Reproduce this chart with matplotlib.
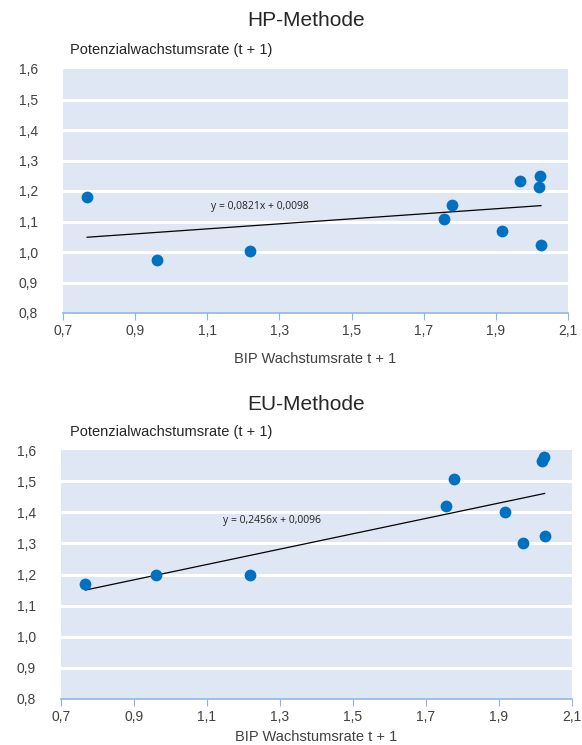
import numpy as np
import matplotlib
matplotlib.use("Agg")
import matplotlib.pyplot as plt
from matplotlib.ticker import FuncFormatter

plt.rcParams["font.family"] = ["Liberation Sans", "DejaVu Sans"]

# BIP-Wachstumsrate (t + 1)
bip = [0.767, 0.961, 1.219, 1.756, 1.778, 1.917, 1.967, 2.019, 2.022, 2.025]
# Potenzialwachstumsrate (t + 1)
hp_rate = [1.180, 0.974, 1.003, 1.108, 1.154, 1.069, 1.233, 1.213, 1.249, 1.023]
eu_rate = [1.170, 1.200, 1.200, 1.420, 1.507, 1.400, 1.300, 1.565, 1.577, 1.323]

x_ticks = [0.7, 0.9, 1.1, 1.3, 1.5, 1.7, 1.9, 2.1]
y_ticks = [0.8, 0.9, 1.0, 1.1, 1.2, 1.3, 1.4, 1.5, 1.6]
titles = ["HP-Methode", "EU-Methode"]
equations = ["y = 0,0821x + 0,0098", "y = 0,2456x + 0,0096"]
ylabel = "Potenzialwachstumsrate (t + 1)"
xlabel = "BIP Wachstumsrate t + 1"

bg = "#dfe7f4"
dot = "#0070c0"
axis_col = "#8db4e2"
txt = "#404040"

fig = plt.figure(figsize=(5.82, 7.45), dpi=100)
boxes = [
    [63 / 582, 1 - 313 / 745, 505 / 582, 244 / 745],
    [61 / 582, 1 - 699 / 745, 511 / 582, 249 / 745],
]
title_y = [20, 405]
ylab_y = [50, 432]
eq_pos = [(260, 207), (272, 521)]
xlab_pad = [10, 4]

comma = FuncFormatter(lambda v, p: f"{v:.1f}".replace(".", ","))

for i, rate in enumerate([hp_rate, eu_rate]):
    ax = fig.add_axes(boxes[i])
    ax.set_facecolor(bg)
    ax.set_xlim(0.7, 2.1)
    ax.set_ylim(0.8, 1.6)
    ax.set_xticks(x_ticks)
    ax.set_yticks(y_ticks)
    ax.xaxis.set_major_formatter(comma)
    ax.yaxis.set_major_formatter(comma)
    ax.grid(axis="y", color="white", linewidth=2.2)
    ax.yaxis.get_gridlines()[-1].set_visible(False)
    ax.set_axisbelow(True)
    for s in ["top", "right", "left"]:
        ax.spines[s].set_visible(False)
    ax.spines["bottom"].set_color(axis_col)
    ax.spines["bottom"].set_linewidth(1.2)
    ax.tick_params(axis="x", colors=axis_col, labelcolor=txt, labelsize=10,
                   length=5, direction="out", pad=3)
    ax.tick_params(axis="y", length=0, labelcolor=txt, labelsize=10, pad=18)

    x = np.array(bip)
    y = np.array(rate)
    k, d = np.polyfit(x, y, 1)
    xs = np.array([x.min(), x.max()])
    ax.plot(xs, k * xs + d, color="black", linewidth=0.9, zorder=2)
    ax.scatter(x, y, s=72, color=dot, zorder=3, linewidths=0)

    ax.set_xlabel(xlabel, fontsize=10.5, color=txt, labelpad=xlab_pad[i])

    ex, ey = eq_pos[i]
    fig.text(ex / 582, 1 - ey / 745, equations[i], fontsize=7.5,
             family=["Open Sans", "DejaVu Sans"], color="#222222",
             ha="center", va="center")
    fig.text(306 / 582, 1 - title_y[i] / 745, titles[i], fontsize=15,
             color="#262626", ha="center", va="center")
    fig.text(70 / 582, 1 - ylab_y[i] / 745, ylabel, fontsize=10.5,
             color="#262626", ha="left", va="center")

fig.savefig("out.png", dpi=100)
